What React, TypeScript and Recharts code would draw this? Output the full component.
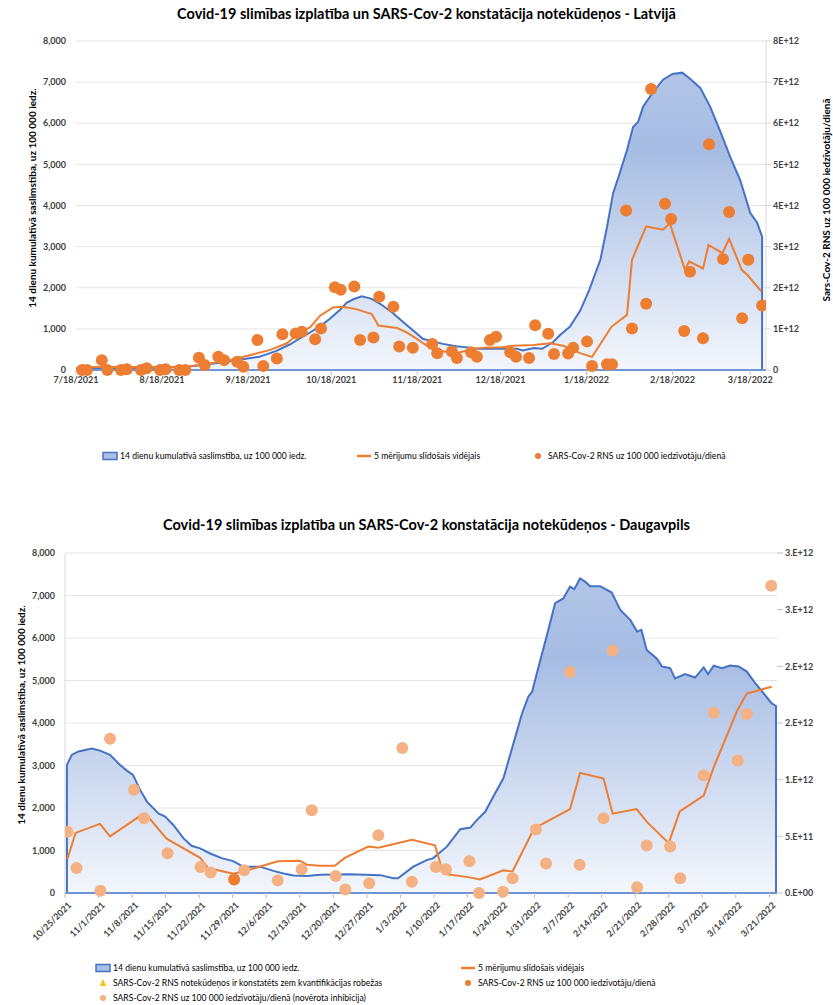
import React from 'react';
import { ComposedChart, Area, Line, Scatter, XAxis, YAxis, CartesianGrid } from 'recharts';

// ---- Latvija (days since 7/18/2021) ----
const latviaTicks = ['7/18/2021', '8/18/2021', '9/18/2021', '10/18/2021', '11/18/2021', '12/18/2021', '1/18/2022', '2/18/2022', '3/18/2022'];
const latviaRightLabels = ['0', '1E+12', '2E+12', '3E+12', '4E+12', '5E+12', '6E+12', '7E+12', '8E+12'];

// 14 dienu kumulatīvā saslimstība [day, value]
const latviaCases = [
  [0, 40], [10, 40], [20, 45], [30, 55], [40, 80], [51, 170], [60, 260], [66, 320], [72, 460], [77, 620],
  [80.5, 760], [84, 900], [88, 1060], [91.6, 1250], [95, 1450], [97.6, 1640], [100, 1720], [103, 1790],
  [106.6, 1730], [109.6, 1610], [114, 1400], [118, 1160], [121.5, 960], [125, 760], [128.7, 690],
  [132.3, 635], [137, 580], [141, 550], [144.5, 515], [153, 515], [159, 515], [161, 475], [165, 535],
  [168, 515], [172, 680], [174.5, 850], [178, 1050], [181.7, 1440], [185, 1950], [189, 2680], [191.4, 3480],
  [193.6, 4300], [196, 4790], [198.6, 5350], [200.8, 5910], [202.6, 6030], [204.4, 6400], [208, 6760],
  [211.6, 7060], [215, 7200], [218.5, 7230], [221, 7100], [225, 6860], [228.6, 6400], [232, 5840],
  [235.8, 5180], [239.4, 4620], [243, 3820], [245.5, 3580], [247.3, 3240], [247.3, 0],
];

// 5 mērījumu slīdošais vidējais [day, E+12]
const latviaAvg = [
  [2, 0.07], [37.5, 0.07], [44.7, 0.12], [55.5, 0.24], [65, 0.4], [70, 0.49], [76, 0.65], [80.5, 0.9],
  [84.4, 1.04], [88, 1.32], [92.6, 1.52], [96, 1.54], [101, 1.48], [106.6, 1.36], [109, 1.08], [115.7, 1.02],
  [119, 0.92], [123, 0.75], [126.5, 0.59], [131, 0.47], [137, 0.41], [143, 0.51], [148, 0.55], [153, 0.55],
  [157.5, 0.59], [165, 0.61], [171, 0.65], [175.6, 0.59], [181.7, 0.41], [186, 0.32], [193, 1.05],
  [198.6, 1.34], [200.4, 2.68], [205.5, 3.49], [211.6, 3.41], [214, 3.57], [219.5, 2.43], [221, 2.64],
  [226, 2.47], [228, 3.04], [233, 2.84], [235.4, 3.19], [240, 2.43], [242, 2.31], [247, 1.91],
];

// SARS-Cov-2 RNS uz 100 000 iedzīvotāju/dienā [day, E+12]
const latviaRna = [
  [2.2, 0], [4, 0], [9.3, 0.24], [11.3, 0], [16.2, 0], [18.3, 0.02], [23.4, 0], [25.5, 0.04], [30.3, 0],
  [32.3, 0.02], [37.2, 0], [39.4, 0], [44.3, 0.3], [46.4, 0.12], [51.3, 0.32], [53.4, 0.24], [58.1, 0.2],
  [60.3, 0.08], [65.4, 0.73], [67.5, 0.1], [72.4, 0.28], [74.4, 0.87], [79.2, 0.89], [81.4, 0.93],
  [86.2, 0.75], [88.3, 1.01], [93.3, 2.01], [95.4, 1.95], [100.3, 2.03], [102.4, 0.73], [107.2, 0.79],
  [109.3, 1.78], [114.4, 1.54], [116.5, 0.57], [121.4, 0.54], [128.4, 0.63], [130.2, 0.41], [135.5, 0.45],
  [137.3, 0.29], [142.4, 0.43], [144.5, 0.32], [149.2, 0.73], [151.4, 0.81], [156.5, 0.43], [158.6, 0.32],
  [163.3, 0.29], [165.5, 1.09], [170.2, 0.88], [172.3, 0.39], [177.4, 0.4], [179.2, 0.54], [184.2, 0.69],
  [186, 0.1], [191.4, 0.14], [193.2, 0.14], [198.3, 3.88], [200.4, 1.01], [205.5, 1.61], [207.3, 6.83],
  [212.3, 4.04], [214.5, 3.67], [219.2, 0.95], [221.3, 2.39], [226, 0.77], [228.2, 5.49], [233.2, 2.7],
  [235.4, 3.84], [240.1, 1.26], [242.3, 2.68], [247.3, 1.57],
];

// ---- Daugavpils (days since 10/25/2021) ----
const dgpTicks = ['10/25/2021', '11/1/2021', '11/8/2021', '11/15/2021', '11/22/2021', '11/29/2021', '12/6/2021', '12/13/2021', '12/20/2021', '12/27/2021', '1/3/2022', '1/10/2022', '1/17/2022', '1/24/2022', '1/31/2022', '2/7/2022', '2/14/2022', '2/21/2022', '2/28/2022', '3/7/2022', '3/14/2022', '3/21/2022'];
const dgpRightLabels = ['0.E+00', '5.E+11', '1.E+12', '2.E+12', '2.E+12', '3.E+12', '3.E+12'];

const dgpCases = [
  [0.4, 0], [0.4, 3010], [1.4, 3250], [2.8, 3330], [5.6, 3400], [7.3, 3350], [9.4, 3250], [11.5, 3010],
  [12.9, 2880], [14.2, 2780], [15.7, 2420], [17.1, 2150], [19.5, 1870], [20.9, 1800], [22.6, 1600],
  [24.7, 1290], [26.4, 1110], [28.2, 1050], [30.3, 930], [32.7, 820], [35.1, 750], [37.2, 620], [40.7, 620],
  [43.5, 520], [45.6, 460], [47.7, 410], [50.5, 400], [53.2, 430], [59.5, 440], [65.8, 420], [68.5, 345],
  [69.5, 345], [72.7, 620], [75.6, 780], [76.8, 815], [79.7, 1090], [82.5, 1500], [84.6, 1540], [86, 1720],
  [87.7, 1910], [89.4, 2270], [91.5, 2700], [93.6, 3520], [95.4, 4230], [96.7, 4620], [97.5, 4740],
  [99.2, 5480], [100.5, 6030], [102.3, 6820], [104, 6930], [105.4, 7210], [106.3, 7150], [107.5, 7400],
  [108.6, 7320], [109.6, 7220], [111.7, 7220], [114.1, 7070], [115.9, 6660], [118, 6420], [119.4, 6150],
  [120.3, 6190], [121.4, 5720], [123.5, 5520], [124.6, 5330], [126.3, 5290], [127.3, 5050], [129.4, 5150],
  [131.5, 5070], [133.3, 5310], [134.2, 5150], [135.4, 5350], [137.1, 5290], [138.8, 5350], [140.6, 5330],
  [142.3, 5210], [144.1, 4930], [145.8, 4700], [147.5, 4460], [148.4, 4400], [148.4, 0],
];

const dgpAvg = [
  [0.5, 0.3], [2.2, 0.53], [7.3, 0.61], [9.4, 0.5], [16, 0.69], [17.4, 0.67], [21.2, 0.48], [28.2, 0.31],
  [29.9, 0.22], [35.1, 0.17], [37.2, 0.19], [41.3, 0.24], [44.4, 0.28], [49, 0.285], [50.5, 0.25],
  [53.2, 0.24], [56.3, 0.24], [58.4, 0.31], [63.3, 0.41], [65.4, 0.4], [72.4, 0.47], [77.2, 0.42], [79, 0.17],
  [84.2, 0.14], [86.6, 0.12], [91.5, 0.2], [93.4, 0.19], [97.8, 0.56], [99.2, 0.6], [105.4, 0.74],
  [107.5, 1.06], [112.4, 1.01], [114.3, 0.7], [119.3, 0.74], [121.4, 0.63], [126, 0.44], [128.3, 0.72],
  [133.3, 0.86], [135.4, 1.11], [140.3, 1.61], [142.3, 1.76], [147.5, 1.82],
];

const dgpRna = [[35.3, 0.12]];

// novērota inhibīcija
const dgpRnaInhib = [
  [0.5, 0.54], [2.4, 0.22], [7.4, 0.02], [9.4, 1.36], [14.4, 0.91], [16.5, 0.66], [21.4, 0.35], [28.3, 0.23],
  [30.4, 0.18], [37.4, 0.2], [44.4, 0.11], [49.4, 0.21], [51.5, 0.73], [56.5, 0.15], [58.5, 0.03], [63.5, 0.085],
  [65.4, 0.51], [70.4, 1.28], [72.4, 0.1], [77.4, 0.23], [79.5, 0.21], [84.4, 0.28], [86.4, 0], [91.4, 0.01],
  [93.4, 0.13], [98.3, 0.56], [100.4, 0.26], [105.4, 1.95], [107.4, 0.25], [112.4, 0.66], [114.3, 2.14],
  [119.4, 0.05], [121.4, 0.42], [126.3, 0.41], [128.4, 0.13], [133.3, 1.04], [135.4, 1.59], [140.4, 1.17],
  [142.3, 1.58], [147.4, 2.71],
];

const BLUE = '#4472C4';
const ORANGE = '#ED7D31';
const LIGHT_ORANGE = '#F4B183';
const FONT = 'Lato, "Open Sans", sans-serif';

const toDate = (s: string) => {
  const [m, d, y] = s.split('/').map(Number);
  return Date.UTC(y, m - 1, d);
};
const dayIndex = (s: string, start: string) => Math.round((toDate(s) - toDate(start)) / 86400000);
const rows = (arr: number[][]) => arr.map(([d, v]) => ({ d, v }));

const tickStyle = { fontSize: 9, fontWeight: 700, fill: '#404040', fontFamily: FONT };

const RotatedTick = (props: any) => {
  const { x, y, payload } = props;
  return (
    <g transform={`translate(${x + 4},${y + 3})`}>
      <text textAnchor="end" dy={4} transform="rotate(-45)" {...tickStyle}>
        {dgpTicks[payload.index] ?? ''}
      </text>
    </g>
  );
};

const dot = (color: string) => (p: any) => <circle cx={p.cx} cy={p.cy} r={6} fill={color} />;

const AxisTitle = ({ x, y, text, rot = -90 }: { x: number; y: number; text: string; rot?: number }) => (
  <div
    style={{
      position: 'absolute', left: x, top: y, transform: `translate(-50%,-50%) rotate(${rot}deg)`,
      whiteSpace: 'nowrap', fontSize: 10, fontWeight: 700, color: '#000', fontFamily: FONT,
    }}
  >
    {text}
  </div>
);

const Title = ({ y, text }: { y: number; text: string }) => (
  <div
    style={{
      position: 'absolute', left: 10, width: 833, top: y, textAlign: 'center',
      fontSize: 14.5, fontWeight: 700, fontFamily: FONT, color: '#000',
    }}
  >
    {text}
  </div>
);

const LegendItem = ({ x, y, icon, text }: { x: number; y: number; icon: string; text: string }) => (
  <div style={{ position: 'absolute', left: x, top: y - 6, display: 'flex', alignItems: 'center', fontSize: 8.6, fontFamily: FONT, color: '#000', whiteSpace: 'nowrap' }}>
    <svg width={16} height={12} style={{ marginRight: 2 }}>
      {icon === 'area' && <rect x={1} y={2.5} width={14} height={7} fill="#a9bfe5" stroke={BLUE} strokeWidth={1.5} />}
      {icon === 'line' && <line x1={1} x2={15} y1={6} y2={6} stroke={ORANGE} strokeWidth={2.5} />}
      {icon === 'dot' && <circle cx={8} cy={6} r={3} fill={ORANGE} />}
      {icon === 'light' && <circle cx={8} cy={6} r={3} fill={LIGHT_ORANGE} />}
      {icon === 'tri' && <polygon points="8,2 11,9 5,9" fill="#FFC000" />}
    </svg>
    {text}
  </div>
);

const Gradient = ({ id }: { id: string }) => (
  <defs>
    <linearGradient id={id} x1="0" y1="0" x2="0" y2="1">
      <stop offset="0%" stopColor="#b2c5e8" />
      <stop offset="25%" stopColor="#a6bce3" />
      <stop offset="100%" stopColor="#f3f6fc" />
    </linearGradient>
  </defs>
);

export default function App() {
  const lvTickDays = latviaTicks.map((t) => dayIndex(t, latviaTicks[0]));
  const dgTickDays = dgpTicks.map((t) => dayIndex(t, dgpTicks[0]));

  return (
    <div style={{ position: 'absolute', left: 0, top: 0, width: 833, height: 1005, background: '#fff', overflow: 'hidden' }}>
      <Title y={5} text="Covid-19 slimības izplatība un SARS-Cov-2 konstatācija notekūdeņos - Latvijā" />
      <div style={{ position: 'absolute', left: 0, top: 0 }}>
        <ComposedChart width={833} height={400} margin={{ top: 41, right: 7, bottom: 10, left: 26 }}>
          <Gradient id="gradTop" />
          <CartesianGrid yAxisId="left" vertical={false} stroke="#e4e4e4" />
          <XAxis
            type="number" dataKey="d" domain={[0, 248.7]} ticks={lvTickDays} allowDataOverflow
            tickFormatter={(_v, i) => latviaTicks[i]} tick={tickStyle} height={20}
            axisLine={{ stroke: '#7094d4', strokeWidth: 2 }} tickLine={{ stroke: '#bfbfbf' }} tickSize={5}
          />
          <YAxis
            yAxisId="left" domain={[0, 8000]} ticks={[0, 1000, 2000, 3000, 4000, 5000, 6000, 7000, 8000]}
            tickFormatter={(v) => v.toLocaleString('en-US')} tick={tickStyle} width={50}
            axisLine={false} tickLine={false} tickSize={8}
          />
          <YAxis
            yAxisId="right" orientation="right" domain={[0, 8]} ticks={[0, 1, 2, 3, 4, 5, 6, 7, 8]}
            tickFormatter={(_v, i) => latviaRightLabels[i]} tick={{ ...tickStyle, textAnchor: 'start' }} width={60}
            axisLine={{ stroke: '#d9d9d9' }} tickLine={{ stroke: '#d9d9d9' }} tickSize={5}
          />
          <Area yAxisId="left" type="linear" data={rows(latviaCases)} dataKey="v" stroke={BLUE} strokeWidth={2} fill="url(#gradTop)" fillOpacity={1} isAnimationActive={false} dot={false} activeDot={false} />
          <Line yAxisId="right" type="linear" data={rows(latviaAvg)} dataKey="v" stroke={ORANGE} strokeWidth={2} dot={false} activeDot={false} isAnimationActive={false} />
          <Scatter yAxisId="right" data={rows(latviaRna)} dataKey="v" shape={dot(ORANGE)} isAnimationActive={false} />
        </ComposedChart>
      </div>
      <AxisTitle x={32} y={198} text="14 dienu kumulatīvā saslimstība, uz 100 000 iedz." />
      <AxisTitle x={826} y={200} text="Sars-Cov-2 RNS uz 100 000 iedzīvotāju/dienā" />
      <LegendItem x={102} y={456} icon="area" text="14 dienu kumulatīvā saslimstība, uz 100 000 iedz." />
      <LegendItem x={356} y={456} icon="line" text="5 mērījumu slīdošais vidējais" />
      <LegendItem x={530} y={456} icon="dot" text="SARS-Cov-2 RNS uz 100 000 iedzīvotāju/dienā" />

      <Title y={516} text="Covid-19 slimības izplatība un SARS-Cov-2 konstatācija notekūdeņos - Daugavpils" />
      <div style={{ position: 'absolute', left: 0, top: 500 }}>
        <ComposedChart width={833} height={460} margin={{ top: 53, right: 6, bottom: 7, left: 15 }}>
          <Gradient id="gradBottom" />
          <CartesianGrid yAxisId="left" vertical={false} stroke="#e4e4e4" />
          <XAxis
            type="number" dataKey="d" domain={[0, 148.6]} ticks={dgTickDays} allowDataOverflow
            tick={<RotatedTick />} height={60} interval={0}
            axisLine={{ stroke: '#7094d4', strokeWidth: 2 }} tickLine={{ stroke: '#bfbfbf' }} tickSize={5}
          />
          <YAxis
            yAxisId="left" domain={[0, 8000]} ticks={[0, 1000, 2000, 3000, 4000, 5000, 6000, 7000, 8000]}
            tickFormatter={(v) => v.toLocaleString('en-US')} tick={tickStyle} width={50}
            axisLine={{ stroke: '#d9d9d9' }} tickLine={false} tickSize={8}
          />
          <YAxis
            yAxisId="right" orientation="right" domain={[0, 3]} ticks={[0, 0.5, 1, 1.5, 2, 2.5, 3]}
            tickFormatter={(_v, i) => dgpRightLabels[i]} tick={{ ...tickStyle, textAnchor: 'start' }} width={50}
            axisLine={false} tickLine={{ stroke: '#bfbfbf' }} tickSize={6}
          />
          <Area yAxisId="left" type="linear" data={rows(dgpCases)} dataKey="v" stroke={BLUE} strokeWidth={2} fill="url(#gradBottom)" fillOpacity={1} isAnimationActive={false} dot={false} activeDot={false} />
          <Line yAxisId="right" type="linear" data={rows(dgpAvg)} dataKey="v" stroke={ORANGE} strokeWidth={2} dot={false} activeDot={false} isAnimationActive={false} />
          <Scatter yAxisId="right" data={rows(dgpRnaInhib)} dataKey="v" shape={dot(LIGHT_ORANGE)} isAnimationActive={false} />
          <Scatter yAxisId="right" data={rows(dgpRna)} dataKey="v" shape={dot(ORANGE)} isAnimationActive={false} />
        </ComposedChart>
      </div>
      <AxisTitle x={21} y={715} text="14 dienu kumulatīvā saslimstība, uz 100 000 iedz." />
      <LegendItem x={95} y={968} icon="area" text="14 dienu kumulatīvā saslimstība, uz 100 000 iedz." />
      <LegendItem x={460} y={968} icon="line" text="5 mērījumu slīdošais vidējais" />
      <LegendItem x={95} y={983} icon="tri" text="SARS-Cov-2 RNS notekūdeņos ir konstatēts zem kvantifikācijas robežas" />
      <LegendItem x={460} y={983} icon="dot" text="SARS-Cov-2 RNS uz 100 000 iedzīvotāju/dienā" />
      <LegendItem x={95} y={998} icon="light" text="SARS-Cov-2 RNS uz 100 000 iedzīvotāju/dienā (novērota inhibīcija)" />
    </div>
  );
}
